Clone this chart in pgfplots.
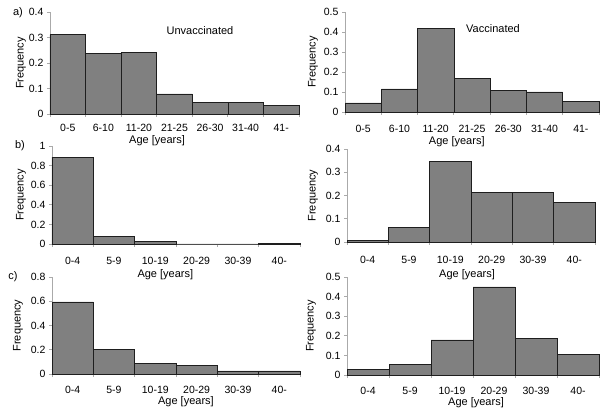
\documentclass[border=0pt]{standalone}
\usepackage{fontspec}
\setmainfont{Liberation Sans}
\usepackage{pgfplots}
\pgfplotsset{compat=1.18}
\definecolor{barfill}{RGB}{128,128,128}
\definecolor{bardraw}{RGB}{30,30,30}
\definecolor{axgray}{RGB}{170,170,170}
\pgfplotsset{
  panel/.style={
    scale only axis,
    anchor=south west,
    axis x line*=bottom,
    axis y line*=left,
    axis line style={axgray, line width=0.8pt},
    ymin=0,
    xmin=-0.5, xmax=6.5,
    xtick={0,...,6},
    minor xtick={-0.5,0.5,...,6.5},
    major x tick style={draw=none},
    minor x tick style={axgray, line width=0.8pt},
    minor tick length=3bp,
    y tick style={axgray, line width=0.8pt},
    major tick length=3bp,
    tick align=outside,
    ymajorgrids=false,
    /pgf/number format/assume math mode=true,
    /pgf/number format/fixed,
    tick label style={font=\fontsize{10.5bp}{12bp}\selectfont},
    label style={font=\fontsize{11bp}{13bp}\selectfont, inner sep=0.5bp},
    every axis y label/.style={rotate=90, anchor=center},
    every axis x label/.style={anchor=center},
    ylabel={Frequency},
    xlabel={Age [years]},
    clip=false,
  },
  hbar/.style={ybar, bar width=1, bar shift=0pt, fill=barfill, draw=bardraw, line width=0.7pt},
}
\begin{document}
\begin{tikzpicture}[font=\fontsize{11bp}{13bp}\selectfont]
\useasboundingbox (0bp,0bp) rectangle (600bp,408bp);

% a) left: Unvaccinated
\begin{axis}[panel, at={(50bp,294bp)}, width=249bp, height=102bp,
  xmin=-0.5, xmax=6.5, ymax=0.4, ytick={0,0.1,0.2,0.3,0.4},
  xticklabels={0-5,6-10,11-20,21-25,26-30,31-40,41-},
  xticklabel style={anchor=center, inner sep=0.5bp, yshift=-11bp},
  x label style={at={(axis description cs:0.43,-0.265)}},
  y label style={at={(axis description cs:-0.1165,0.5)}}]
\addplot[hbar] coordinates {(0,0.311) (1,0.239) (2,0.240) (3,0.079) (4,0.047) (5,0.047) (6,0.035)};
\end{axis}

% a) right: Vaccinated
\begin{axis}[panel, at={(345bp,296bp)}, width=254bp, height=100bp,
  ymax=0.5, ytick={0,0.1,0.2,0.3,0.4,0.5},
  xticklabels={0-5,6-10,11-20,21-25,26-30,31-40,41-},
  xticklabel style={anchor=center, inner sep=0.5bp, yshift=-14bp},
  x label style={at={(axis description cs:0.44,-0.30)}},
  y label style={at={(axis description cs:-0.126,0.5)}}]
\addplot[hbar] coordinates {(0,0.045) (1,0.115) (2,0.417) (3,0.168) (4,0.106) (5,0.100) (6,0.053)};
\end{axis}

% b) left
\begin{axis}[panel, at={(52bp,164bp)}, width=248bp, height=98bp,
  xmin=-0.5, xmax=5.5, xtick={0,...,5}, minor xtick={-0.5,0.5,...,5.5},
  ymax=1, ytick={0,0.2,0.4,0.6,0.8,1},
  xticklabels={0-4,5-9,10-19,20-29,30-39,40-},
  xticklabel style={anchor=center, inner sep=0.5bp, yshift=-14bp},
  x label style={at={(axis description cs:0.457,-0.316)}},
  y label style={at={(axis description cs:-0.125,0.5)}}]
\addplot[hbar] coordinates {(0,0.887) (1,0.075) (2,0.027) (3,0) (4,0) (5,0.005)};
\end{axis}

% b) right
\begin{axis}[panel, at={(347bp,166bp)}, width=248bp, height=93bp,
  xmin=-0.5, xmax=5.5, xtick={0,...,5}, minor xtick={-0.5,0.5,...,5.5},
  ymax=0.4, ytick={0,0.1,0.2,0.3,0.4},
  xticklabels={0-4,5-9,10-19,20-29,30-39,40-},
  xticklabel style={anchor=center, inner sep=0.5bp, yshift=-15bp},
  x label style={at={(axis description cs:0.484,-0.355)}},
  y label style={at={(axis description cs:-0.137,0.5)}}]
\addplot[hbar] coordinates {(0,0.006) (1,0.064) (2,0.347) (3,0.215) (4,0.212) (5,0.170)};
\end{axis}

% c) left
\begin{axis}[panel, at={(52bp,34bp)}, width=248bp, height=97bp,
  xmin=-0.5, xmax=5.5, xtick={0,...,5}, minor xtick={-0.5,0.5,...,5.5},
  ymax=0.8, ytick={0,0.2,0.4,0.6,0.8},
  xticklabels={0-4,5-9,10-19,20-29,30-39,40-},
  xticklabel style={anchor=center, inner sep=0.5bp, yshift=-13bp},
  x label style={at={(axis description cs:0.54,-0.289)}},
  y label style={at={(axis description cs:-0.137,0.5)}}]
\addplot[hbar] coordinates {(0,0.595) (1,0.205) (2,0.088) (3,0.074) (4,0.025) (5,0.025)};
\end{axis}

% c) right
\begin{axis}[panel, at={(347bp,33bp)}, width=252bp, height=98bp,
  xmin=-0.5, xmax=5.5, xtick={0,...,5}, minor xtick={-0.5,0.5,...,5.5},
  ymax=0.5, ytick={0,0.1,0.2,0.3,0.4,0.5},
  xticklabels={0-4,5-9,10-19,20-29,30-39,40-},
  xticklabel style={anchor=center, inner sep=0.5bp, yshift=-13bp},
  x label style={at={(axis description cs:0.512,-0.278)}},
  y label style={at={(axis description cs:-0.143,0.5)}}]
\addplot[hbar] coordinates {(0,0.027) (1,0.052) (2,0.179) (3,0.449) (4,0.188) (5,0.106)};
\end{axis}

\node at (200bp,377bp) {Unvaccinated};
\node at (493bp,379bp) {Vaccinated};
\node at (18bp,395bp) {a)};
\node at (20bp,262bp) {b)};
\node at (13bp,131bp) {c)};
\end{tikzpicture}
\end{document}
